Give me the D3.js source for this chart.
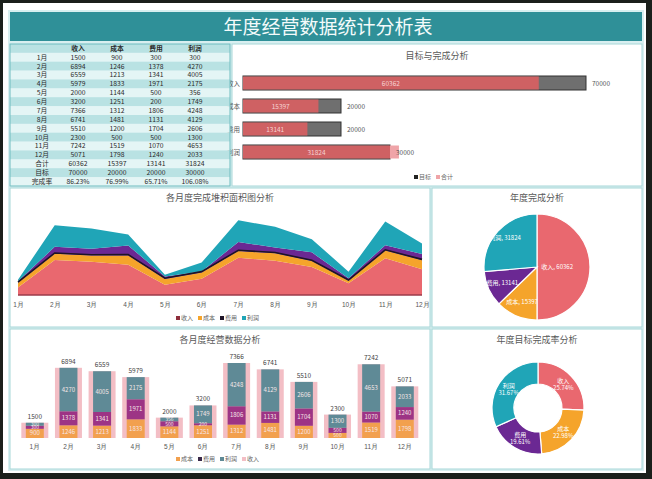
<!DOCTYPE html>
<html>
<head>
<meta charset="utf-8">
<script src="https://cdn.jsdelivr.net/npm/d3@7"></script>
<style>
  body { margin: 0; background: #1b1f1b; }
  svg { display: block; font-family: "Noto Sans CJK SC", "Noto Sans", sans-serif; }
</style>
</head>
<body>
<script>
// data
const months = ["1月","2月","3月","4月","5月","6月","7月","8月","9月","10月","11月","12月"];
const income  = [1500, 6894, 6559, 5979, 2000, 3200, 7366, 6741, 5510, 2300, 7242, 5071];
const cost    = [900, 1246, 1213, 1833, 1144, 1251, 1312, 1481, 1200, 500, 1519, 1798];
const expense = [300, 1378, 1341, 1971, 500, 200, 1806, 1131, 1704, 500, 1070, 1240];
const profit  = [300, 4270, 4005, 2175, 356, 1749, 4248, 4129, 2606, 1300, 4653, 2033];

const categories = ["收入", "成本", "费用", "利润"];
const totals  = [60362, 15397, 13141, 31824];
const targets = [70000, 20000, 20000, 30000];
const rates   = ["86.23%", "76.99%", "65.71%", "106.08%"];
const rateShares = [25.74, 22.98, 19.61, 31.67];

const W = 652, H = 479;
const colors = {"收入": "#e9686f", "成本": "#f5a42b", "费用": "#6b2893", "利润": "#20a5b7"};
const titleColor = "#595959";

const svg = d3.select("body").append("svg")
    .attr("width", W)
    .attr("height", H)
    .attr("viewBox", [0, 0, W, H]);

// frame + background
svg.append("rect").attr("x", 3).attr("y", 3).attr("width", 643).attr("height", 470).attr("fill", "#ffffff");
svg.append("rect").attr("x", 8).attr("y", 10).attr("width", 636).attr("height", 461).attr("fill", "#d8eff0");

// title bar
svg.append("rect").attr("x", 10).attr("y", 12).attr("width", 632).attr("height", 29).attr("fill", "#2f9098");
svg.append("text")
    .attr("x", 328).attr("y", 34)
    .attr("text-anchor", "middle")
    .attr("fill", "#f4fbfb")
    .attr("font-size", 19)
    .text("年度经营数据统计分析表");

function panel(x, y, w, h, title, ty) {
  const g = svg.append("g");
  g.append("rect")
    .attr("x", x).attr("y", y).attr("width", w).attr("height", h)
    .attr("fill", "#ffffff").attr("stroke", "#a7d7d8").attr("stroke-width", 1);
  g.append("text")
    .attr("x", x + w / 2).attr("y", ty)
    .attr("text-anchor", "middle")
    .attr("fill", titleColor)
    .attr("font-size", 9)
    .text(title);
  return g;
}

function legend(g, items, cx, y) {
  const itemW = items.map(d => 6 + d.label.length * 6 + 4);
  const total = d3.sum(itemW);
  let x = cx - total / 2;
  items.forEach((d, i) => {
    g.append("rect").attr("x", x).attr("y", y - 4).attr("width", 4).attr("height", 4).attr("fill", d.color);
    g.append("text").attr("x", x + 5).attr("y", y).attr("font-size", 6).attr("fill", "#666").text(d.label);
    x += itemW[i];
  });
}

// ---------- target vs done ----------
const gT = panel(232, 44, 410, 142, "目标与完成分析", 59);
const tx = d3.scaleLinear().domain([0, 70000]).range([243, 586]);
const ty = d3.scalePoint().domain(categories).range([83, 152]);
const barH = 14;

categories.forEach((c, i) => {
  const y = ty(c) - barH / 2;
  gT.append("rect")
    .attr("x", tx(0)).attr("y", y)
    .attr("width", tx(targets[i]) - tx(0)).attr("height", barH)
    .attr("fill", "#6f6f6f").attr("stroke", "#333").attr("stroke-width", 1);
  gT.append("rect")
    .attr("x", tx(0)).attr("y", y + 0.5)
    .attr("width", tx(Math.min(totals[i], targets[i])) - tx(0)).attr("height", barH - 1)
    .attr("fill", "#cf6163");
  if (totals[i] > targets[i]) {
    gT.append("rect")
      .attr("x", tx(targets[i])).attr("y", y + 0.5)
      .attr("width", tx(totals[i]) - tx(targets[i])).attr("height", barH - 1)
      .attr("fill", "#efa4a8");
  }
  gT.append("text")
    .attr("x", (tx(0) + tx(Math.min(totals[i], targets[i]))) / 2).attr("y", ty(c) + 2.5)
    .attr("text-anchor", "middle").attr("font-size", 6.5).attr("fill", "#f7d3d3")
    .text(totals[i]);
  gT.append("text")
    .attr("x", tx(targets[i]) + 6).attr("y", ty(c) + 2.5)
    .attr("font-size", 6.5).attr("fill", "#555")
    .text(targets[i]);
  gT.append("text")
    .attr("x", 240).attr("y", ty(c) + 2.5)
    .attr("text-anchor", "end").attr("font-size", 6.5).attr("fill", "#555")
    .text(c);
});
legend(gT, [{label: "目标", color: "#222"}, {label: "合计", color: "#efa4a8"}], 436, 179);

// ---------- data table ----------
const gTab = svg.append("g");
const rowLabels = [...months, "合计", "目标", "完成率"];
const series = [income, cost, expense, profit];
const tableRows = rowLabels.map((label, i) => {
  if (i < 12) return [label, ...series.map(s => s[i])];
  if (i === 12) return [label, ...totals];
  if (i === 13) return [label, ...targets];
  return [label, ...rates];
});
const allRows = [["", ...categories], ...tableRows];
const colX = [42, 78, 117, 156, 195];
const rowY = d3.scaleBand().domain(d3.range(allRows.length)).range([44, 186]);

gTab.selectAll("rect.row")
  .data(allRows)
  .join("rect")
    .attr("class", "row")
    .attr("x", 10).attr("y", (d, i) => rowY(i))
    .attr("width", 220).attr("height", rowY.bandwidth())
    .attr("fill", (d, i) => i % 2 === 0 ? "#b9e2e3" : "#e4f5f5");

gTab.append("rect")
  .attr("x", 10).attr("y", 44).attr("width", 220).attr("height", 142)
  .attr("fill", "none").attr("stroke", "#6fbcbf").attr("stroke-width", 1);

allRows.forEach((row, i) => {
  row.forEach((v, j) => {
    gTab.append("text")
      .attr("x", colX[j]).attr("y", rowY(i) + rowY.bandwidth() / 2 + 2.4)
      .attr("text-anchor", "middle")
      .attr("font-size", 6.8)
      .attr("font-weight", i === 0 ? "bold" : "normal")
      .attr("fill", "#2a2a2a")
      .text(v);
  });
});

// ---------- stacked area ----------
const gA = panel(10, 188, 420, 139, "各月度完成堆积面积图分析", 201);
const rows = months.map((m, i) => ({m, "收入": income[i], "成本": cost[i], "费用": expense[i], "利润": profit[i]}));
const stacked = d3.stack().keys(categories)(rows);
const ax = d3.scalePoint().domain(months).range([18, 422]);
const ay = d3.scaleLinear().domain([0, 15000]).range([295, 219]);

const area = d3.area()
    .x(d => ax(d.data.m))
    .y0(d => ay(d[0]))
    .y1(d => ay(d[1]));

gA.selectAll("path.layer")
  .data(stacked)
  .join("path")
    .attr("class", "layer")
    .attr("fill", d => colors[d.key])
    .attr("d", area);

// dark edge under the 费用 layer
gA.append("path")
  .datum(stacked[2])
  .attr("fill", "none")
  .attr("stroke", "#1e1426")
  .attr("stroke-width", 1.6)
  .attr("d", d3.line().x(d => ax(d.data.m)).y(d => ay(d[0]) - 0.8));

gA.append("line")
  .attr("x1", 18).attr("x2", 422).attr("y1", 295).attr("y2", 295)
  .attr("stroke", "#9b3b4a").attr("stroke-width", 1.5);

gA.append("g")
  .attr("transform", "translate(0,297)")
  .call(d3.axisBottom(ax).tickSize(0).tickPadding(5))
  .call(g => g.select(".domain").remove())
  .call(g => g.selectAll("text").attr("font-size", 6.5).attr("fill", "#555").attr("font-family", null));

legend(gA, [
  {label: "收入", color: "#8e2e3c"},
  {label: "成本", color: "#f5a42b"},
  {label: "费用", color: "#1e1426"},
  {label: "利润", color: "#20a5b7"}
], 220, 320);

// ---------- pie ----------
const gP = panel(432, 188, 210, 139, "年度完成分析", 201);
const pieData = d3.pie().sort(null).value(d => d.v)(categories.map((c, i) => ({c, v: totals[i]})));
const pieR = 53;
const pieArc = d3.arc().innerRadius(0).outerRadius(pieR);
const gPie = gP.append("g").attr("transform", "translate(537,267)");
gPie.selectAll("path")
  .data(pieData)
  .join("path")
    .attr("d", pieArc)
    .attr("fill", d => colors[d.data.c])
    .attr("stroke", "#fff").attr("stroke-width", 1.2);
gPie.selectAll("text")
  .data(pieData)
  .join("text")
    .attr("transform", d => {
      const share = (d.endAngle - d.startAngle) / (2 * Math.PI);
      const r = share > 0.4 ? pieR * 0.38 : share > 0.2 ? pieR * 0.82 : pieR * 0.72;
      const a = (d.startAngle + d.endAngle) / 2;
      return `translate(${Math.sin(a) * r},${-Math.cos(a) * r + 2})`;
    })
    .attr("text-anchor", "middle")
    .attr("font-size", 6)
    .attr("fill", "#fff")
    .text(d => `${d.data.c}, ${d.data.v}`);

// ---------- stacked bars ----------
const gB = panel(10, 329, 420, 140, "各月度经营数据分析", 343);
const bx = d3.scaleBand().domain(months).range([18, 421.6]);
const by = d3.scaleLinear().domain([0, 7366]).range([438, 363]);
const barKeys = ["成本", "费用", "利润"];
const barColors = {"成本": "#f2a04e", "费用": "#9d3485", "利润": "#5f8a96"};
const barStack = d3.stack().keys(barKeys)(rows);

gB.selectAll("rect.inc")
  .data(rows)
  .join("rect")
    .attr("class", "inc")
    .attr("x", d => bx(d.m) + bx.bandwidth() / 2 - 13.5)
    .attr("y", d => by(d["收入"]))
    .attr("width", 27)
    .attr("height", d => by(0) - by(d["收入"]))
    .attr("fill", "#f3bec5");

barStack.forEach(layer => {
  gB.selectAll(null)
    .data(layer)
    .join("rect")
      .attr("x", d => bx(d.data.m) + bx.bandwidth() / 2 - 9)
      .attr("y", d => by(d[1]))
      .attr("width", 18)
      .attr("height", d => by(d[0]) - by(d[1]))
      .attr("fill", barColors[layer.key]);
});
barStack.forEach(layer => {
  gB.selectAll(null)
    .data(layer)
    .join("text")
      .attr("x", d => bx(d.data.m) + bx.bandwidth() / 2)
      .attr("y", d => (by(d[0]) + by(d[1])) / 2 + 2)
      .attr("text-anchor", "middle")
      .attr("font-size", d => by(d[0]) - by(d[1]) < 6 ? 5 : 6)
      .attr("fill", "#f6e6e6")
      .text(d => d.data[layer.key]);
});

gB.selectAll("text.tot")
  .data(rows)
  .join("text")
    .attr("class", "tot")
    .attr("x", d => bx(d.m) + bx.bandwidth() / 2)
    .attr("y", d => by(d["收入"]) - 4)
    .attr("text-anchor", "middle")
    .attr("font-size", 6.5)
    .attr("fill", "#444")
    .text(d => d["收入"]);

gB.append("g")
  .attr("transform", "translate(0,439)")
  .call(d3.axisBottom(bx).tickSize(0).tickPadding(5))
  .call(g => g.select(".domain").remove())
  .call(g => g.selectAll("text").attr("font-size", 6.5).attr("fill", "#555").attr("font-family", null));

legend(gB, [
  {label: "成本", color: "#f2a04e"},
  {label: "费用", color: "#3a2a4a"},
  {label: "利润", color: "#5f8a96"},
  {label: "收入", color: "#f3bec5"}
], 220, 461);

// ---------- donut ----------
const gD = panel(432, 329, 210, 140, "年度目标完成率分析", 343);
const donutData = d3.pie().sort(null).value(d => d.v)(categories.map((c, i) => ({c, v: rateShares[i]})));
const donutArc = d3.arc().innerRadius(24).outerRadius(46);
const gDon = gD.append("g").attr("transform", "translate(538,408)");
gDon.selectAll("path")
  .data(donutData)
  .join("path")
    .attr("d", donutArc)
    .attr("fill", d => colors[d.data.c])
    .attr("stroke", "#fff").attr("stroke-width", 1.2);
const dl = gDon.selectAll("text")
  .data(donutData)
  .join("text")
    .attr("transform", d => `translate(${donutArc.centroid(d)})`)
    .attr("text-anchor", "middle")
    .attr("font-size", 6)
    .attr("fill", "#fff");
dl.append("tspan").attr("x", 0).attr("dy", -1).text(d => d.data.c);
dl.append("tspan").attr("x", 0).attr("dy", 7).text(d => d.data.v.toFixed(2) + "%");
</script>
</body>
</html>
